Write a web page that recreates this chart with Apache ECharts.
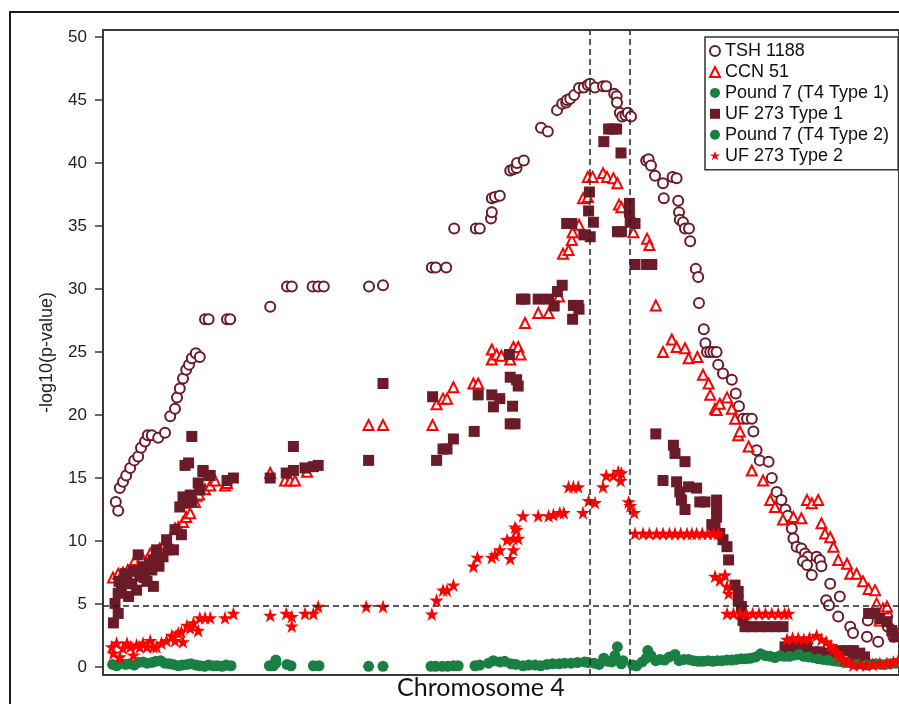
<!DOCTYPE html>
<html>
<head>
<meta charset="utf-8">
<script src="https://cdn.jsdelivr.net/npm/echarts@6/dist/echarts.min.js"></script>
<style>
  html, body { margin: 0; padding: 0; background: #fff; }
  #chart { width: 899px; height: 704px; }
</style>
</head>
<body>
<div id="chart"></div>
<script>
// ---- Data (x = relative position along chromosome 4, y = -log10(p-value)) ----
const seriesNames = ['TSH 1188', 'CCN 51', 'Pound 7 (T4 Type 1)', 'UF 273 Type 1', 'Pound 7 (T4 Type 2)', 'UF 273 Type 2'];
const yTicks = [0, 5, 10, 15, 20, 25, 30, 35, 40, 45, 50];
const thresholdY = 4.9;
const intervalX = [60.8, 65.8];
const xTitle = 'Chromosome 4';
const yTitle = '-log10(p-value)';

const tsh1188 = [[1.6,13.1],[1.9,12.4],[2.1,14.2],[2.5,14.7],[2.9,15.2],[3.4,15.8],[3.9,16.4],[4.4,16.7],[4.75,17.4],[5.25,17.9],[5.6,18.4],[6.1,18.4],[6.9,18.2],[7.75,18.6],[8.4,19.9],[9.0,20.5],[9.25,21.4],[9.6,22.1],[10.0,22.9],[10.4,23.6],[10.75,24.0],[11.1,24.5],[11.6,24.9],[12.1,24.6],[12.75,27.6],[13.2,27.6],[15.5,27.6],[15.9,27.6],[20.9,28.6],[23.0,30.2],[23.6,30.2],[26.2,30.2],[26.9,30.2],[27.6,30.2],[33.25,30.2],[35.0,30.3],[41.1,31.7],[41.6,31.7],[42.9,31.7],[43.9,34.8],[46.6,34.8],[47.1,34.8],[48.5,35.6],[48.6,36.1],[48.6,37.2],[49.0,37.3],[49.6,37.4],[50.9,39.4],[51.3,39.5],[51.7,39.6],[51.75,40.0],[52.6,40.2],[54.75,42.8],[55.6,42.5],[56.75,44.2],[57.4,44.7],[57.9,44.8],[58.0,45.0],[58.4,45.1],[58.9,45.4],[59.5,45.95],[60.1,46.0],[60.6,46.2],[60.9,46.3],[61.5,46.0],[62.5,46.1],[62.9,46.1],[63.9,45.5],[64.2,45.3],[64.25,44.8],[64.6,44.0],[64.9,43.7],[65.3,43.8],[65.6,44.0],[66.0,43.7],[67.9,40.2],[68.2,40.3],[68.5,39.8],[69.0,39.0],[70.0,38.4],[71.2,38.9],[71.7,38.8],[70.1,37.2],[71.9,37.0],[72.0,36.1],[72.1,35.5],[72.5,35.3],[72.75,34.8],[73.25,34.8],[73.4,33.8],[74.1,31.6],[74.4,30.95],[74.5,28.9],[75.1,26.8],[75.3,25.7],[75.5,25.0],[75.9,25.0],[76.3,25.0],[76.7,25.0],[76.9,24.0],[77.5,23.3],[78.6,22.8],[79.1,21.7],[79.5,20.7],[80.0,19.7],[80.5,19.7],[81.1,19.7],[81.3,18.7],[81.7,17.2],[82.1,16.4],[83.2,16.3],[83.6,15.0],[84.2,13.9],[84.8,13.25],[85.3,12.5],[85.6,12.0],[86.1,11.0],[86.3,10.2],[86.7,9.55],[87.3,9.4],[87.75,9.0],[88.1,8.75],[87.5,8.4],[88.0,8.1],[88.6,7.3],[89.2,8.75],[89.6,8.5],[89.8,8.0],[90.9,6.6],[92.1,5.6],[90.4,5.3],[90.75,4.9],[91.9,4.0],[93.4,3.2],[93.75,2.7],[95.5,2.4],[95.6,3.7],[96.9,2.0],[98.0,4.0],[98.1,3.2],[98.8,2.4]];

const ccn51 = [[1.25,7.1],[1.9,7.4],[2.5,7.5],[3.1,7.7],[4.0,8.5],[4.9,8.7],[5.9,9.0],[6.5,9.1],[7.1,9.4],[7.75,9.8],[8.3,9.7],[9.0,11.0],[9.4,11.1],[10.0,11.5],[10.4,11.9],[10.9,12.2],[11.5,13.1],[11.7,13.6],[12.0,13.7],[12.75,14.1],[13.4,14.4],[14.0,14.8],[15.25,14.4],[15.5,14.6],[20.9,15.4],[22.75,14.8],[23.4,14.8],[24.0,14.8],[25.5,15.5],[33.2,19.2],[35.0,19.2],[41.2,19.2],[41.7,20.85],[42.5,21.3],[43.0,21.3],[43.8,22.2],[46.3,22.5],[46.9,22.5],[48.6,25.2],[48.6,24.4],[49.2,24.8],[49.8,24.7],[50.9,24.4],[51.3,25.4],[51.9,25.4],[52.2,24.8],[52.75,27.3],[54.4,28.1],[55.7,28.1],[57.0,29.4],[57.5,32.8],[58.2,33.1],[58.6,33.9],[58.7,34.5],[59.5,35.1],[60.0,37.2],[60.6,37.3],[60.6,38.9],[61.2,38.9],[62.5,39.2],[63.0,38.9],[63.8,38.8],[64.3,38.4],[64.5,36.7],[64.8,36.5],[66.3,34.5],[68.0,34.0],[68.3,33.5],[69.1,28.7],[70.0,25.0],[71.1,26.0],[71.7,25.4],[72.75,25.3],[73.2,24.5],[74.3,24.6],[75.0,23.2],[75.7,22.5],[75.9,21.6],[76.5,20.5],[76.7,20.4],[77.1,20.9],[78.0,21.4],[78.6,20.5],[79.0,19.7],[79.4,18.4],[79.6,18.7],[80.7,17.5],[81.1,15.6],[82.5,14.8],[83.4,13.25],[84.0,12.7],[85.0,11.7],[86.3,11.9],[87.3,11.8],[88.0,13.25],[88.6,13.0],[89.4,13.25],[89.8,11.4],[90.25,10.6],[90.9,10.3],[91.3,9.55],[91.9,8.5],[93.0,8.2],[93.4,7.4],[94.2,7.4],[95.0,6.8],[95.7,6.2],[96.5,6.1],[96.7,5.05],[97.5,4.65],[98.0,4.8],[97.1,3.7],[98.8,2.9],[99.2,2.7]];

const pound7Type1 = [[1.2,0.2],[2.2,0.3],[3.3,0.25],[4.4,0.35],[5.5,0.3],[6.6,0.45],[7.7,0.3],[8.8,0.2],[9.9,0.15],[11.0,0.25],[12.1,0.1],[13.2,0.15],[14.3,0.1],[15.4,0.15],[16.0,0.1],[20.8,0.1],[21.6,0.55],[23.0,0.2],[26.3,0.1],[33.2,0.05],[41.0,0.05],[42.4,0.05],[43.8,0.1],[46.5,0.1],[48.2,0.3],[49.6,0.4],[51.0,0.25],[52.5,0.1],[54.0,0.15],[55.5,0.2],[57.0,0.25],[58.5,0.3],[60.2,0.4],[61.4,0.3],[62.6,0.7],[63.6,0.4],[64.3,1.6],[65.0,0.5],[66.2,0.15],[67.4,0.4],[68.5,0.9],[69.6,0.6],[70.8,0.8],[72.0,0.5],[73.2,0.6],[74.4,0.45],[75.6,0.5],[76.8,0.5],[78.0,0.55],[79.2,0.6],[80.4,0.65],[81.6,0.8],[82.8,0.9],[84.0,0.75],[85.2,0.85],[86.4,0.95],[87.6,0.85],[88.8,0.75],[90.0,0.6],[91.2,0.5],[92.4,0.4],[93.6,0.3],[94.8,0.25],[96.0,0.2],[97.2,0.2],[98.4,0.25],[99.5,0.3]];

const uf273Type1 = [[1.3,3.5],[1.9,4.25],[1.5,5.05],[1.9,5.85],[2.3,6.25],[2.75,7.4],[3.2,5.6],[3.6,6.6],[4.2,6.1],[4.6,7.2],[5.0,7.95],[5.5,6.8],[4.4,8.9],[6.3,6.4],[6.1,7.7],[6.3,8.5],[6.7,9.3],[7.5,8.75],[7.95,10.1],[8.2,9.3],[8.8,9.3],[9.0,10.9],[9.8,10.5],[9.6,12.7],[10.0,13.5],[10.25,13.0],[10.9,13.65],[11.1,13.1],[11.9,14.6],[12.1,14.05],[12.5,15.5],[13.2,15.2],[10.25,16.0],[10.7,16.2],[11.1,18.3],[12.5,15.6],[13.4,15.2],[15.5,14.8],[16.3,15.0],[20.9,15.0],[22.9,15.4],[23.8,15.6],[23.8,17.5],[25.25,15.8],[26.3,15.9],[26.9,16.0],[2.0,6.8],[3.0,7.0],[3.8,7.6],[5.2,7.1],[5.8,8.2],[7.0,8.0],[33.2,16.4],[35.0,22.5],[41.2,21.45],[41.7,16.4],[42.5,17.3],[43.0,17.3],[43.8,18.1],[46.4,18.7],[46.9,21.6],[48.6,21.6],[48.8,20.65],[49.6,21.3],[50.9,19.3],[51.5,19.3],[50.9,23.0],[51.7,22.8],[51.9,22.3],[51.2,20.7],[50.8,24.8],[52.3,29.2],[52.75,29.2],[54.4,29.2],[55.7,29.2],[56.4,28.65],[56.8,29.8],[57.4,30.3],[58.8,28.7],[59.4,28.7],[59.5,28.4],[58.7,27.6],[57.96,35.2],[58.6,35.2],[60.1,34.3],[60.9,34.15],[60.7,36.2],[60.8,37.7],[61.3,35.3],[62.6,41.7],[63.2,42.7],[63.7,42.7],[64.2,42.7],[64.75,40.8],[64.3,34.55],[64.8,34.55],[65.8,36.8],[65.8,36.1],[65.9,35.3],[66.5,35.2],[66.5,31.95],[67.95,31.95],[68.6,31.95],[69.1,18.5],[71.3,17.6],[71.5,16.95],[72.75,16.3],[70.0,14.8],[71.7,14.7],[72.1,13.9],[72.3,13.25],[72.75,12.5],[73.2,14.3],[74.2,14.2],[74.6,13.1],[75.25,13.1],[76.7,13.25],[76.7,12.6],[76.7,11.9],[76.1,11.3],[76.5,11.1],[77.1,10.6],[77.5,10.1],[78.0,9.55],[78.2,8.5],[79.0,6.5],[79.4,6.0],[79.4,5.3],[79.8,4.8],[80.0,3.7],[80.25,3.2],[81.0,3.2],[82.0,3.2],[83.0,3.2],[84.0,3.2],[85.0,3.2],[85.25,1.6],[86.0,1.6],[86.7,1.6],[87.3,1.6],[88.0,1.6],[88.8,1.2],[89.6,1.2],[90.4,1.1],[91.2,1.2],[92.1,1.3],[93.0,1.3],[93.8,1.3],[94.6,1.1],[93.8,0.7],[95.2,0.8],[95.7,4.25],[96.5,4.25],[97.1,3.85],[98.0,3.6],[98.6,2.9],[99.0,2.4]];

const pound7Type2 = [[1.7,0.1],[2.8,0.2],[3.9,0.15],[5.0,0.4],[6.1,0.35],[7.2,0.5],[8.3,0.25],[9.4,0.1],[10.5,0.2],[11.6,0.15],[12.7,0.05],[13.8,0.1],[14.9,0.05],[21.3,0.1],[21.6,0.3],[23.5,0.1],[27.0,0.1],[35.0,0.05],[41.6,0.05],[43.1,0.05],[44.4,0.1],[47.1,0.15],[48.8,0.5],[50.2,0.45],[51.6,0.2],[53.2,0.15],[54.7,0.1],[56.2,0.25],[57.7,0.3],[59.3,0.35],[60.7,0.35],[62.0,0.2],[63.1,0.45],[64.0,0.9],[64.8,0.25],[66.7,0.1],[67.9,0.7],[68.1,1.3],[69.1,0.5],[70.2,0.55],[71.5,1.0],[72.6,0.6],[73.8,0.5],[75.0,0.45],[76.2,0.45],[77.4,0.5],[78.6,0.55],[79.8,0.65],[81.0,0.7],[82.2,1.05],[83.4,0.85],[84.6,0.9],[85.8,0.85],[87.0,1.0],[88.2,0.8],[89.4,0.65],[90.6,0.55],[91.8,0.45],[93.0,0.35],[94.2,0.2],[95.4,0.15],[96.6,0.25],[97.8,0.2],[99.0,0.3]];

const uf273Type2 = [[1.1,1.6],[1.3,1.1],[1.7,1.9],[2.1,0.8],[2.5,1.5],[3.0,1.9],[3.4,1.6],[3.8,0.95],[4.2,1.75],[4.6,1.6],[5.0,1.9],[5.5,1.6],[5.9,2.1],[6.3,1.6],[6.7,1.6],[7.3,1.9],[7.95,2.1],[8.6,2.5],[9.0,2.1],[9.4,2.7],[9.8,2.8],[10.0,2.0],[10.5,3.3],[10.9,3.1],[11.3,3.5],[11.9,2.9],[12.1,3.9],[12.75,3.9],[13.4,3.9],[15.25,3.9],[16.3,4.25],[20.9,4.1],[22.9,4.25],[23.6,4.0],[23.6,3.25],[25.25,4.25],[26.3,4.25],[26.9,4.8],[32.9,4.8],[35.0,4.8],[41.1,4.2],[41.7,5.3],[42.5,6.1],[43.0,6.1],[43.8,6.5],[46.3,8.0],[46.8,8.7],[48.6,8.7],[49.0,8.9],[49.6,9.3],[50.9,8.6],[51.3,9.3],[50.5,10.1],[51.3,10.2],[51.7,10.9],[51.9,10.2],[51.5,11.1],[52.5,12.0],[54.4,12.0],[55.7,12.0],[56.3,12.1],[57.1,12.25],[57.6,12.25],[58.2,14.3],[58.8,14.3],[59.4,14.3],[60.0,12.25],[60.7,13.2],[61.5,13.05],[62.5,14.3],[62.9,15.2],[63.8,15.2],[64.4,15.5],[64.8,15.4],[64.7,14.8],[65.7,13.1],[65.9,12.8],[66.4,12.25],[66.5,10.6],[67.5,10.6],[68.3,10.6],[69.2,10.6],[70.0,10.6],[70.8,10.6],[71.5,10.6],[72.2,10.6],[73.0,10.6],[73.6,10.6],[74.2,10.6],[74.9,10.6],[75.6,10.6],[76.3,10.6],[76.9,10.6],[76.5,7.2],[77.1,6.9],[77.75,7.3],[78.0,6.4],[78.2,5.85],[78.0,4.25],[78.8,4.25],[79.6,4.25],[80.4,4.25],[81.2,4.25],[82.0,4.25],[82.8,4.25],[83.6,4.25],[84.4,4.25],[85.2,4.25],[85.7,4.25],[85.5,2.2],[86.2,2.3],[86.9,2.3],[87.6,2.2],[88.3,2.3],[89.2,2.5],[89.8,2.2],[90.4,2.0],[91.0,1.7],[91.3,1.4],[91.8,1.1],[92.1,0.8],[92.6,0.6],[93.0,0.4],[93.8,0.15],[94.6,0.2],[95.4,0.15],[96.2,0.2],[97.1,0.3],[98.0,0.3],[98.8,0.4],[99.4,0.55]];

// ---- Styling ----
const MAROON = '#6b1a28';
const RED = '#ff0000';
const GREEN = '#1a7f42';
const STAR = 'path://M50,0 L61.8,35.1 L98.9,35.1 L68.9,56.8 L80.3,91.9 L50,70.2 L19.7,91.9 L31.1,56.8 L1.1,35.1 L38.2,35.1 Z';

const chart = echarts.init(document.getElementById('chart'), null, { renderer: 'canvas' });

const option = {
  backgroundColor: '#ffffff',
  animation: false,
  textStyle: { fontFamily: '"Liberation Sans", Arial, sans-serif' },
  grid: {
    left: 103, top: 30, right: 0, bottom: 29,
    show: true, borderColor: '#3a3a3a', borderWidth: 2, backgroundColor: 'transparent'
  },
  xAxis: {
    // the plotted region continues past the right edge of the picture
    type: 'value', min: 0, max: 99.5,
    axisLine: { show: false }, axisTick: { show: false }, axisLabel: { show: false },
    splitLine: { show: false }
  },
  yAxis: {
    type: 'value', min: -0.635, max: 50.56,
    name: yTitle, nameLocation: 'middle', nameGap: 47,
    nameTextStyle: { fontSize: 18, color: '#222', fontFamily: '"Liberation Sans", Arial, sans-serif' },
    axisLine: { show: false },
    axisTick: { show: true, length: 8, customValues: yTicks, lineStyle: { color: '#3a3a3a', width: 1.5 } },
    axisLabel: { show: true, customValues: yTicks, fontSize: 17, color: '#222', margin: 16 },
    splitLine: { show: false }
  },
  legend: {
    orient: 'vertical', left: 705, top: 37,
    backgroundColor: '#fff', borderColor: '#333', borderWidth: 1.5, borderRadius: 0,
    padding: [4, 9, 4, 4], itemGap: 0.7, itemWidth: 10, itemHeight: 10,
    textStyle: { fontSize: 18, color: '#111', lineHeight: 20.2 },
    data: seriesNames
  },
  graphic: [
    { type: 'rect', silent: true, z: 100,
      shape: { x: 10, y: 12, width: 1000, height: 1000 },
      style: { fill: 'none', stroke: '#1a1a1a', lineWidth: 2 } },
    { type: 'text', silent: true, left: 397, top: 675,
      style: { text: xTitle, fontSize: 25, fill: '#111', fontFamily: 'Lato, "Open Sans", sans-serif' } }
  ],
  series: [
    { name: seriesNames[0], type: 'scatter', clip: false, data: tsh1188,
      symbol: 'emptyCircle', symbolSize: 10,
      itemStyle: { color: MAROON, borderColor: MAROON, borderWidth: 1.8, opacity: 1 } },
    { name: seriesNames[1], type: 'scatter', clip: false, data: ccn51,
      symbol: 'emptyTriangle', symbolSize: 10,
      itemStyle: { color: RED, borderColor: RED, borderWidth: 1.6, opacity: 1 } },
    { name: seriesNames[2], type: 'scatter', clip: false, data: pound7Type1,
      symbol: 'circle', symbolSize: 11, itemStyle: { color: GREEN, opacity: 1 } },
    { name: seriesNames[3], type: 'scatter', clip: false, data: uf273Type1,
      symbol: 'rect', symbolSize: 11, itemStyle: { color: MAROON, opacity: 1 } },
    { name: seriesNames[4], type: 'scatter', clip: false, data: pound7Type2,
      symbol: 'circle', symbolSize: 11, itemStyle: { color: GREEN, opacity: 1 } },
    { name: seriesNames[5], type: 'scatter', clip: false, data: uf273Type2,
      symbol: STAR, symbolSize: 14, itemStyle: { color: RED, opacity: 1 },
      markLine: {
        silent: true, symbol: ['none', 'none'], label: { show: false },
        lineStyle: { color: '#222', width: 1.5, type: [6, 4] },
        data: [ { yAxis: thresholdY }, { xAxis: intervalX[0] }, { xAxis: intervalX[1] } ]
      } }
  ]
};
chart.setOption(option);
</script>
</body>
</html>
